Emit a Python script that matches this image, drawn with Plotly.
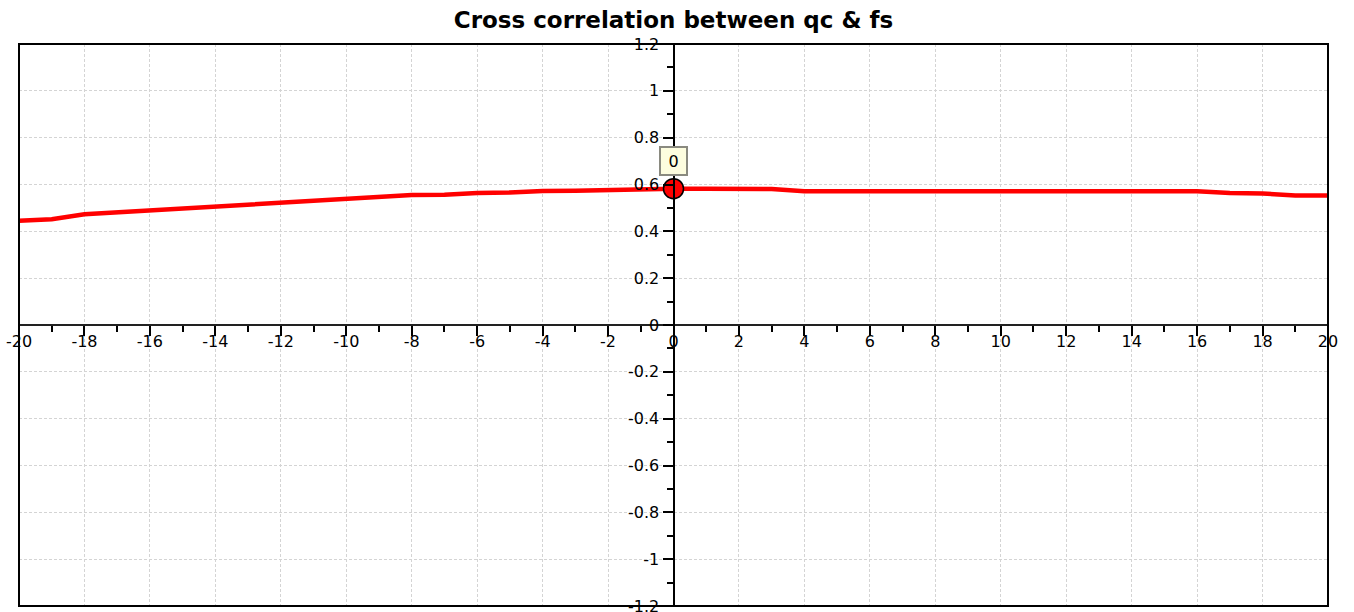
import plotly.graph_objects as go

# lag values and cross-correlation between qc & fs
lags = list(range(-20, 21))
corr = [
    0.445, 0.452, 0.473, 0.481, 0.489, 0.497, 0.506, 0.514, 0.522, 0.530,
    0.538, 0.546, 0.555, 0.556, 0.564, 0.566, 0.572, 0.573, 0.576, 0.581,
    0.582,
    0.582, 0.582, 0.581, 0.571, 0.571, 0.571, 0.571, 0.571, 0.571, 0.571,
    0.571, 0.571, 0.571, 0.571, 0.571, 0.571, 0.564, 0.562, 0.553, 0.553,
]
selected_lag = 0
title = "Cross correlation between qc & fs"

x_ticks = list(range(-20, 21, 2))
x_ticktext = [str(v) for v in x_ticks]
y_ticks = [-1.2, -1, -0.8, -0.6, -0.4, -0.2, 0, 0.2, 0.4, 0.6, 0.8, 1, 1.2]
y_ticktext = ["-1.2", "-1", "-0.8", "-0.6", "-0.4", "-0.2", "0",
              "0.2", "0.4", "0.6", "0.8", "1", "1.2"]

sel_val = corr[lags.index(selected_lag)]

font = "Verdana, DejaVu Sans, sans-serif"

fig = go.Figure()
fig.add_trace(go.Scatter(x=lags, y=corr, mode="lines",
                         line=dict(color="#ff0000", width=4.5), showlegend=False))
fig.add_trace(go.Scatter(x=[selected_lag], y=[sel_val], mode="markers",
                         marker=dict(size=20, color="#ff0000",
                                     line=dict(color="#000000", width=1.5)),
                         showlegend=False))

fig.add_annotation(x=selected_lag, y=sel_val, text=str(selected_lag), showarrow=False,
                   yshift=28, width=17, height=18, borderpad=4,
                   bgcolor="#fdfddf", bordercolor="#8a8a80", borderwidth=2,
                   font=dict(family=font, size=16, color="#000000"))

grid = dict(showgrid=True, gridcolor="#d4d4d4", gridwidth=1, griddash="3px,2px",
            zeroline=False, showline=True, linewidth=2, automargin=False,
            ticks="outside", ticklen=10, tickwidth=2, tickcolor="#000000",
            ticklabeloverflow="allow",
            tickfont=dict(family=font, size=16, color="#000000"))

fig.update_xaxes(range=[-20, 20], tickvals=x_ticks, ticktext=x_ticktext,
                 anchor="free", position=0.5, linecolor="#222222",
                 ticklabelstandoff=-8,
                 minor=dict(ticks="outside", ticklen=6, tickwidth=2, dtick=1,
                            tickcolor="#000000", showgrid=False),
                 **grid)
fig.update_yaxes(range=[-1.2, 1.2], tickvals=y_ticks, ticktext=y_ticktext,
                 anchor="free", position=0.5, linecolor="#000000",
                 minor=dict(ticks="outside", ticklen=6, tickwidth=2, dtick=0.1,
                            tickcolor="#000000", showgrid=False),
                 **grid)

fig.add_shape(type="rect", xref="paper", yref="paper", x0=0, x1=1, y0=0, y1=1,
              line=dict(color="#000000", width=2), layer="above")

fig.update_layout(
    width=1354, height=612,
    title=dict(text="<b>" + title + "</b>", x=0.5, xref="paper",
               y=1 - 20 / 612, yref="container", yanchor="middle",
               font=dict(family=font, size=23, color="#000000")),
    margin=dict(l=19, r=26, t=44, b=6, pad=0, autoexpand=False),
    plot_bgcolor="#ffffff", paper_bgcolor="#ffffff",
    font=dict(family=font),
)

# drop the default 8px body margin so the figure fills the window
fig.write_html("out.html", config={"displayModeBar": False},
               post_script="document.body.style.margin='0';")
